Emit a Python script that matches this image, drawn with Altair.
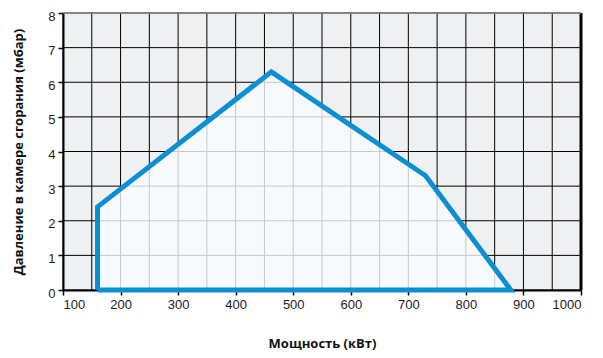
import altair as alt
import pandas as pd

# Polygon of the working field (power kW, pressure mbar)
power = [160, 160, 462, 730, 878, 160]
pressure = [0, 2.4, 6.3, 3.3, 0, 0]

x_ticks = [100, 200, 300, 400, 500, 600, 700, 800, 900, 1000]
y_ticks = [0, 1, 2, 3, 4, 5, 6, 7, 8]
x_grid = [100, 150, 200, 250, 300, 350, 400, 450, 500, 550, 600, 650, 700, 750, 800, 850, 900, 950, 1000]
y_grid = [0, 1, 2, 3, 4, 5, 6, 7, 8]

line_df = pd.DataFrame({"x": power, "y": pressure, "i": list(range(len(power)))})
area_df = line_df.iloc[:-1].copy()
area_df["y0"] = 0.0

xs = alt.Scale(domain=[100, 1000], nice=False, zero=False)
ys = alt.Scale(domain=[0, 8], nice=False)

xaxis = alt.Axis(values=x_ticks, title="Мощность (кВт)", format="d", grid=False)
yaxis = alt.Axis(values=y_ticks, title="Давление в камере сгорания (мбар)", format="d", grid=False)

vgrid = alt.Chart(pd.DataFrame({"v": x_grid})).mark_rule(color="#000000", strokeWidth=1).encode(
    x=alt.X("v:Q", scale=xs, axis=xaxis)
)
hgrid = alt.Chart(pd.DataFrame({"v": y_grid})).mark_rule(color="#000000", strokeWidth=1).encode(
    y=alt.Y("v:Q", scale=ys, axis=yaxis)
)

area = alt.Chart(area_df).mark_area(color="#f9fbfe", opacity=0.8, orient="vertical").encode(
    x=alt.X("x:Q", scale=xs, axis=xaxis),
    y=alt.Y("y:Q", scale=ys, axis=yaxis),
    y2="y0:Q",
)

outline = alt.Chart(line_df).mark_line(color="#0a8fd2", strokeWidth=5, strokeJoin="miter").encode(
    x=alt.X("x:Q", scale=xs, axis=xaxis), y=alt.Y("y:Q", scale=ys, axis=yaxis), order="i:Q"
)

right_border = alt.Chart(pd.DataFrame({"v": [1000]})).mark_rule(color="#000000", strokeWidth=3).encode(
    x=alt.X("v:Q", scale=xs, axis=xaxis)
)
top_border = alt.Chart(pd.DataFrame({"v": [8]})).mark_rule(color="#888888", strokeWidth=1.5).encode(
    y=alt.Y("v:Q", scale=ys, axis=yaxis)
)

chart = alt.layer(vgrid, hgrid, area, outline, right_border, top_border).properties(
    width=518, height=277,
    autosize=alt.AutoSizeParams(type="none"),
    padding={"left": 55, "top": 5, "right": 14, "bottom": 60},
).configure_view(fill="#eff0f2", stroke=None).configure_axis(
    domainColor="#000000", domainWidth=2, tickColor="#000000", tickSize=5, tickWidth=1.5,
    labelFontSize=13, labelColor="#222222", labelFont="Liberation Sans",
    labelOverlap=False, titleFont="Open Sans", titleFontSize=13,
    titleFontWeight="bold", titleColor="#111111",
).configure_axisX(labelPadding=3, titlePadding=26).configure_axisY(
    labelPadding=3, labelOffset=3, titlePadding=22)

chart.save("out.html", embed_options={"renderer": "svg", "actions": False})
